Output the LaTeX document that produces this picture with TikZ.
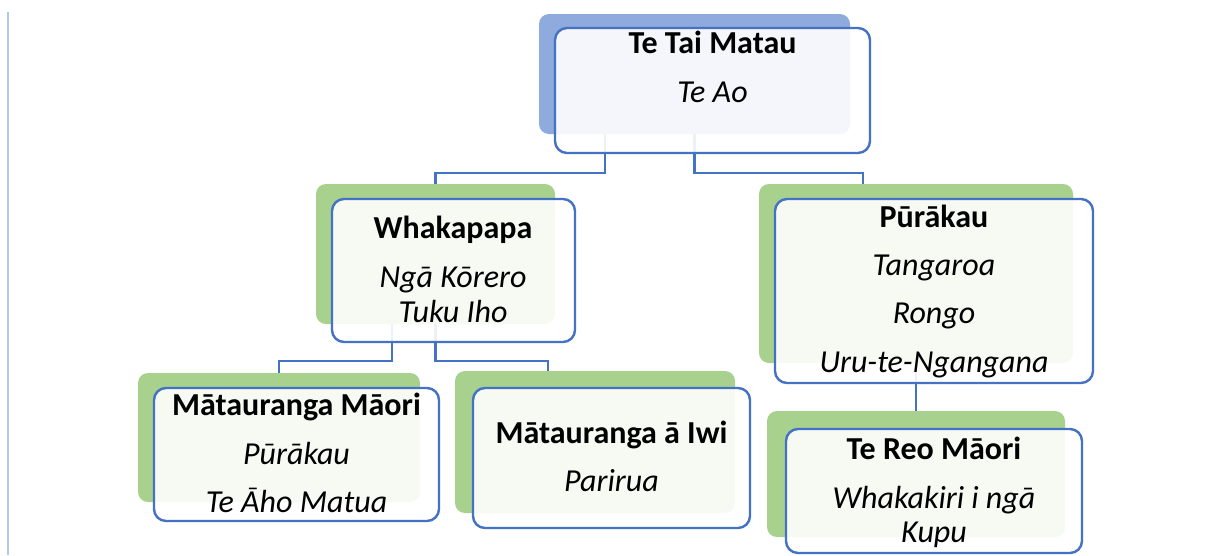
\documentclass[tikz,border=0pt]{standalone}
\usepackage{fontspec}
\setmainfont{Carlito}
\definecolor{accblue}{HTML}{8FAADC}
\definecolor{accgreen}{HTML}{A9D18E}
\definecolor{edgeblue}{HTML}{4472C4}
\definecolor{sideblue}{HTML}{B4C7E7}
\begin{document}
\begin{tikzpicture}[x=1pt,y=-1pt,
  backbox/.style={rectangle,rounded corners=10pt,inner sep=0pt,draw=none},
  bluebk/.style={backbox,fill=accblue},
  greenbk/.style={backbox,fill=accgreen},
  frontbox/.style={rectangle,rounded corners=12pt,inner sep=0pt,draw=edgeblue,line width=2.4pt,fill=white,fill opacity=0.9},
  conn/.style={draw=edgeblue,line width=2.4pt},
  ttl/.style={anchor=base,inner sep=0pt,font=\fontsize{32}{38}\selectfont\bfseries},
  sub/.style={anchor=base,inner sep=0pt,font=\fontsize{32}{38}\selectfont\itshape}]
\useasboundingbox (0,0) rectangle (1210,555);
\fill[white] (0,0) rectangle (1210,555);
\draw[sideblue,line width=1.2pt] (8,12) -- (8,555);
% back boxes
\node[bluebk,minimum width=311pt,minimum height=120pt] (topB) at (694.5,74) {};
\node[greenbk,minimum width=239pt,minimum height=140pt] (whB) at (435.5,254) {};
\node[greenbk,minimum width=282pt,minimum height=129pt] (mmB) at (279,437.5) {};
\node[greenbk,minimum width=280pt,minimum height=142pt] (iwB) at (595,442) {};
\node[greenbk,minimum width=314pt,minimum height=179pt] (puB) at (916,273.5) {};
\node[greenbk,minimum width=298pt,minimum height=126pt] (trB) at (916,474) {};
% connectors
\draw[conn] ([xshift=-89.5pt]topB.south) -- ++(0,39) -| (whB.north);
\draw[conn] (topB.south) -- ++(0,39) -| ([xshift=-53pt]puB.north);
\draw[conn] ([xshift=-43.5pt]whB.south) -- ++(0,37) -| (mmB.north);
\draw[conn] (whB.south) -- ++(0,37) -| ([xshift=-47pt]iwB.north);
\draw[conn] (puB.south) -- (trB.north);
% front boxes
\node[frontbox,minimum width=315pt,minimum height=125pt] (topF) at (712.5,90.5) {};
\node[frontbox,minimum width=243pt,minimum height=143pt] (whF) at (453.5,270.5) {};
\node[frontbox,minimum width=285pt,minimum height=133pt] (mmF) at (296.5,454.5) {};
\node[frontbox,minimum width=277pt,minimum height=140pt] (iwF) at (611.5,458) {};
\node[frontbox,minimum width=318pt,minimum height=184pt] (puF) at (934,291) {};
\node[frontbox,minimum width=296pt,minimum height=124pt] (trF) at (934,491) {};
% texts
\node[ttl] (t1) at (712.5,53) {Te Tai Matau};
\node[sub] (t2) at (712.5,102) {Te Ao};
\node[ttl] (w1) at (453,238) {Whakapapa};
\node[sub] (w2) at (453,287) {Ngā Kōrero};
\node[sub] (w3) at (453,322) {Tuku Iho};
\node[ttl] (m1) at (296.5,415) {Mātauranga Māori};
\node[sub] (m2) at (296.5,464) {Pūrākau};
\node[sub] (m3) at (296.5,512) {Te Āho Matua};
\node[ttl] (i1) at (611.5,443) {Mātauranga ā Iwi};
\node[sub] (i2) at (611.5,491) {Parirua};
\node[ttl] (p1) at (934,227) {Pūrākau};
\node[sub] (p2) at (934,275) {Tangaroa};
\node[sub] (p3) at (934,323) {Rongo};
\node[sub] (p4) at (934,372) {Uru-te-Ngangana};
\node[ttl] (r1) at (934,459) {Te Reo Māori};
\node[sub] (r2) at (934,508) {Whakakiri i ngā};
\node[sub] (r3) at (934,542) {Kupu};
\end{tikzpicture}
\end{document}
